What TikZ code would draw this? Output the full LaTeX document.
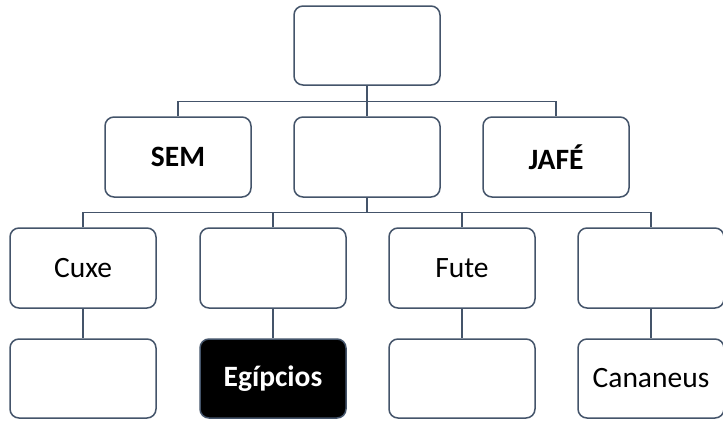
\documentclass[tikz,border=0pt]{standalone}
\usepackage{fontspec}
\setmainfont{Carlito}
\definecolor{lineC}{RGB}{68,84,106}
\begin{document}
\begin{tikzpicture}[x=1pt,y=-1pt,
  box/.style={draw=lineC,line width=1.5pt,rounded corners=9pt,fill=white,
    minimum width=146pt,inner sep=0pt,font=\fontsize{29.5}{34}\selectfont},
  bbox/.style={box,font=\fontsize{29.5}{34}\selectfont\bfseries},
  conn/.style={draw=lineC,line width=1.5pt}]
\useasboundingbox (0,0) rectangle (723,421);
\node[box,minimum height=79pt] (top) at (367,45.5) {};
\node[bbox,minimum height=80pt] (sem) at (178,157) {SEM};
\node[box,minimum height=80pt] (mid) at (367,157) {};
\node[bbox,minimum height=80pt] (jafe) at (556,157) {JAFÉ};
\node[box,minimum height=80pt] (cuxe) at (83,268) {Cuxe};
\node[box,minimum height=80pt] (c2) at (273,268) {};
\node[box,minimum height=80pt] (fute) at (462,268) {Fute};
\node[box,minimum height=80pt] (c4) at (651,268) {};
\node[box,minimum height=79pt] (d1) at (83,378.5) {};
\node[bbox,minimum height=79pt,fill=black,text=white] (egi) at (273,378.5) {Egípcios};
\node[box,minimum height=79pt] (d3) at (462,378.5) {};
\node[box,minimum height=79pt] (can) at (651,378.5) {Cananeus};
\draw[conn] (sem.north) -- ++(0,-15) -| (jafe.north);
\draw[conn] (top.south) -- (mid.north);
\draw[conn] (cuxe.north) -- ++(0,-15) -| (c4.north);
\draw[conn] (mid.south) -- ++(0,15);
\draw[conn] (c2.north) -- ++(0,-15);
\draw[conn] (fute.north) -- ++(0,-15);
\draw[conn] (cuxe.south) -- (d1.north);
\draw[conn] (c2.south) -- (egi.north);
\draw[conn] (fute.south) -- (d3.north);
\draw[conn] (c4.south) -- (can.north);
\end{tikzpicture}
\end{document}
